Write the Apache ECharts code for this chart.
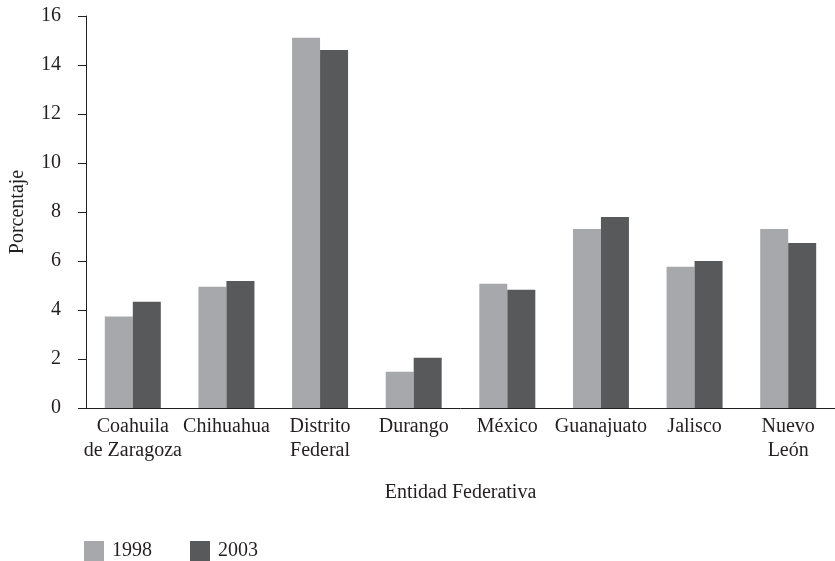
<!DOCTYPE html>
<html>
<head>
<meta charset="utf-8">
<script src="https://cdn.jsdelivr.net/npm/echarts@6/dist/echarts.min.js"></script>
<style>
html,body{margin:0;padding:0;background:#fff;}
#chart{width:835px;height:561px;}
</style>
</head>
<body>
<div id="chart"></div>
<script>
const categories = ['Coahuila\nde Zaragoza', 'Chihuahua', 'Distrito\nFederal', 'Durango', 'México', 'Guanajuato', 'Jalisco', 'Nuevo\nLeón'];
const values1998 = [3.73, 4.95, 15.11, 1.48, 5.07, 7.31, 5.77, 7.31];
const values2003 = [4.34, 5.18, 14.61, 2.05, 4.83, 7.80, 6.00, 6.73];
const seriesNames = ['1998', '2003'];
const yTicks = { min: 0, max: 16, interval: 2 };

const font = 'Liberation Serif';
const textColor = '#231f20';
const lineColor = '#231f20';
const chart = echarts.init(document.getElementById('chart'));
chart.setOption({
  animation: false,
  backgroundColor: '#ffffff',
  textStyle: { fontFamily: font },
  grid: { left: 79, top: 16, height: 392, width: 765 },
  legend: {
    left: 79, top: 536,
    itemWidth: 20, itemHeight: 20, itemGap: 38,
    icon: 'rect',
    data: seriesNames,
    textStyle: { fontFamily: font, fontSize: 20, color: textColor, padding: [0, 0, 0, 3] }
  },
  xAxis: {
    type: 'category',
    data: categories,
    name: 'Entidad Federativa',
    nameLocation: 'middle',
    nameGap: 75,
    nameTextStyle: { fontFamily: font, fontSize: 20, color: textColor },
    axisLine: { lineStyle: { color: lineColor, width: 1 } },
    axisTick: { show: false },
    axisLabel: { fontFamily: font, fontSize: 20, color: textColor, lineHeight: 24, margin: 7, interval: 0 }
  },
  yAxis: {
    type: 'value',
    min: yTicks.min, max: yTicks.max, interval: yTicks.interval,
    name: 'Porcentaje',
    nameLocation: 'middle',
    nameGap: 58,
    nameRotate: 90,
    nameTextStyle: { fontFamily: font, fontSize: 20, color: textColor },
    axisLine: { show: true, lineStyle: { color: lineColor, width: 1 } },
    axisTick: { show: true, length: 8, lineStyle: { color: lineColor } },
    axisLabel: { fontFamily: font, fontSize: 20, color: textColor, margin: 25 },
    splitLine: { show: false }
  },
  series: [
    { name: seriesNames[0], type: 'bar', data: values1998, barWidth: 28, barGap: '0%', itemStyle: { color: '#a7a8ab' } },
    { name: seriesNames[1], type: 'bar', data: values2003, barWidth: 28, barGap: '0%', itemStyle: { color: '#58595b' } }
  ]
});
</script>
</body>
</html>
